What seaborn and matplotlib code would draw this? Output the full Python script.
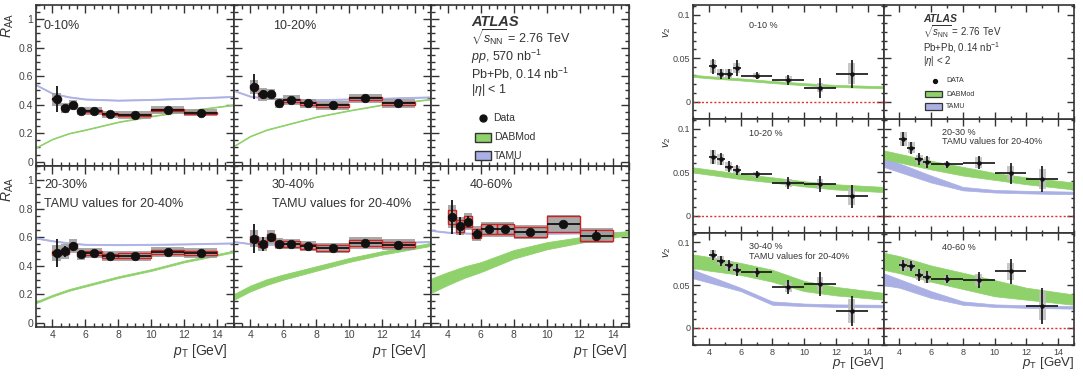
import numpy as np
import matplotlib
matplotlib.use("Agg")
import matplotlib.pyplot as plt
import seaborn as sns
from matplotlib.ticker import MultipleLocator, FuncFormatter
from matplotlib.patches import Rectangle

# ---------------- R_AA data (left group) ----------------
raa_edges = [4, 4.5, 5, 5.5, 6, 7, 8, 10, 12, 14]

raa_0_10 = [0.438, 0.380, 0.396, 0.356, 0.356, 0.333, 0.328, 0.363, 0.344]
raa_0_10_stat = [0.09, 0.02, 0.02, 0.015, 0.012, 0.01, 0.01, 0.01, 0.012]
raa_0_10_sys = [0.045, 0.035, 0.035, 0.03, 0.03, 0.025, 0.025, 0.025, 0.025]
raa_0_10_red = [0.008] * 9

raa_10_20 = [0.527, 0.473, 0.473, 0.415, 0.431, 0.410, 0.396, 0.445, 0.410]
raa_10_20_stat = [0.09, 0.03, 0.02, 0.015, 0.012, 0.01, 0.01, 0.01, 0.012]
raa_10_20_sys = [0.05, 0.045, 0.04, 0.035, 0.035, 0.03, 0.03, 0.03, 0.03]
raa_10_20_red = [0.01] * 9

raa_20_30 = [0.488, 0.500, 0.536, 0.481, 0.488, 0.469, 0.471, 0.495, 0.488]
raa_20_30_stat = [0.10, 0.04, 0.03, 0.02, 0.015, 0.012, 0.012, 0.012, 0.015]
raa_20_30_sys = [0.055, 0.05, 0.05, 0.04, 0.035, 0.035, 0.035, 0.035, 0.035]
raa_20_30_red = [0.015] * 9

raa_30_40 = [0.590, 0.555, 0.600, 0.555, 0.555, 0.536, 0.524, 0.560, 0.548]
raa_30_40_stat = [0.10, 0.05, 0.03, 0.02, 0.015, 0.012, 0.012, 0.012, 0.015]
raa_30_40_sys = [0.06, 0.05, 0.05, 0.04, 0.035, 0.035, 0.035, 0.04, 0.04]
raa_30_40_red = [0.02] * 9

raa_40_60 = [0.743, 0.679, 0.710, 0.626, 0.655, 0.655, 0.638, 0.695, 0.612]
raa_40_60_stat = [0.12, 0.06, 0.04, 0.03, 0.02, 0.015, 0.015, 0.02, 0.04]
raa_40_60_sys = [0.08, 0.06, 0.06, 0.05, 0.05, 0.05, 0.05, 0.06, 0.05]
raa_40_60_red = [0.05, 0.04, 0.04, 0.03, 0.035, 0.035, 0.035, 0.055, 0.04]

# model curves for R_AA
raa_model_pt = [3, 4, 5, 6, 8, 10, 12, 15]
tamu_raa_0_10 = [0.54, 0.48, 0.455, 0.44, 0.432, 0.437, 0.445, 0.458]
tamu_raa_10_20 = [0.50, 0.46, 0.445, 0.44, 0.435, 0.44, 0.445, 0.455]
tamu_raa_20_30 = [0.595, 0.575, 0.56, 0.55, 0.548, 0.55, 0.553, 0.56]
tamu_raa_30_40 = [0.57, 0.555, 0.55, 0.548, 0.548, 0.553, 0.56, 0.57]
tamu_raa_40_60 = [0.648, 0.635, 0.63, 0.625, 0.625, 0.628, 0.63, 0.635]
dab_raa_0_10 = [0.10, 0.16, 0.20, 0.225, 0.28, 0.32, 0.355, 0.40]
dab_raa_10_20 = [0.11, 0.18, 0.225, 0.255, 0.315, 0.36, 0.40, 0.44]
dab_raa_20_30 = [0.143, 0.19, 0.23, 0.26, 0.32, 0.37, 0.43, 0.50]
dab_raa_30_40 = [0.18, 0.24, 0.285, 0.32, 0.38, 0.44, 0.49, 0.55]
dab_raa_40_60 = [0.26, 0.31, 0.355, 0.39, 0.48, 0.54, 0.58, 0.63]
dab_raa_hw_30_40 = [0.02, 0.02, 0.02, 0.018, 0.016, 0.014, 0.012, 0.01]
dab_raa_hw_40_60 = [0.05, 0.045, 0.04, 0.035, 0.03, 0.025, 0.02, 0.015]

# ---------------- v2 data (right group) ----------------
v2_edges = [4, 4.5, 5, 5.5, 6, 8, 10, 12, 14]

v2_0_10 = [0.0404, 0.032, 0.032, 0.0385, 0.0296, 0.025, 0.016, 0.032]
v2_0_10_stat = [0.009, 0.006, 0.006, 0.009, 0.004, 0.006, 0.0115, 0.016]
v2_0_10_sys = [0.007, 0.005, 0.005, 0.006, 0.003, 0.004, 0.005, 0.012]

v2_10_20 = [0.0677, 0.0646, 0.0563, 0.0525, 0.0475, 0.0373, 0.0365, 0.022]
v2_10_20_stat = [0.008, 0.007, 0.006, 0.006, 0.004, 0.007, 0.009, 0.013]
v2_10_20_sys = [0.008, 0.006, 0.005, 0.005, 0.003, 0.005, 0.006, 0.010]

v2_20_30 = [0.0875, 0.078, 0.0646, 0.062, 0.059, 0.061, 0.0487, 0.042]
v2_20_30_stat = [0.008, 0.007, 0.007, 0.007, 0.004, 0.008, 0.012, 0.015]
v2_20_30_sys = [0.008, 0.006, 0.005, 0.005, 0.003, 0.006, 0.008, 0.012]

v2_30_40 = [0.0856, 0.0786, 0.073, 0.068, 0.065, 0.0475, 0.0514, 0.0195]
v2_30_40_stat = [0.006, 0.006, 0.006, 0.007, 0.005, 0.008, 0.0136, 0.0175]
v2_30_40_sys = [0.006, 0.005, 0.005, 0.005, 0.003, 0.006, 0.008, 0.014]

v2_40_60 = [0.073, 0.072, 0.0623, 0.059, 0.057, 0.056, 0.0661, 0.026]
v2_40_60_stat = [0.007, 0.006, 0.007, 0.007, 0.005, 0.009, 0.015, 0.021]
v2_40_60_sys = [0.007, 0.006, 0.006, 0.006, 0.004, 0.007, 0.010, 0.017]

v2_model_pt = [3, 4, 6, 8, 10, 12, 15]
dab_v2_0_10 = [0.0296, 0.028, 0.0255, 0.0225, 0.020, 0.018, 0.0165]
dab_v2_10_20 = [0.0525, 0.050, 0.045, 0.041, 0.0365, 0.033, 0.030]
dab_v2_20_30 = [0.070, 0.066, 0.058, 0.051, 0.045, 0.040, 0.034]
dab_v2_30_40 = [0.078, 0.075, 0.069, 0.061, 0.049, 0.043, 0.037]
dab_v2_40_60 = [0.078, 0.074, 0.0635, 0.055, 0.0465, 0.040, 0.033]
dab_v2_hw_0_10 = [0.0012] * 7
dab_v2_hw_10_20 = [0.003] * 7
dab_v2_hw_20_30 = [0.005, 0.005, 0.005, 0.005, 0.004, 0.004, 0.004]
dab_v2_hw_30_40 = [0.008, 0.008, 0.007, 0.007, 0.006, 0.005, 0.004]
dab_v2_hw_40_60 = [0.010, 0.010, 0.0095, 0.0095, 0.0095, 0.007, 0.006]
tamu_v2_20_30 = [0.062, 0.055, 0.042, 0.031, 0.028, 0.027, 0.026]
tamu_v2_30_40 = [0.063, 0.057, 0.045, 0.029, 0.027, 0.026, 0.0255]
tamu_v2_40_60 = [0.057, 0.052, 0.039, 0.029, 0.026, 0.025, 0.024]
tamu_v2_hw_20_30 = [0.006, 0.005, 0.004, 0.002, 0.0015, 0.0015, 0.0015]
tamu_v2_hw_30_40 = [0.005, 0.004, 0.002, 0.002, 0.0015, 0.0015, 0.0015]
tamu_v2_hw_40_60 = [0.007, 0.005, 0.004, 0.002, 0.0015, 0.0015, 0.0015]

# ---------------- style ----------------
sns.set_style("ticks")
plt.rcParams['font.family'] = ['Liberation Sans', 'DejaVu Sans']
plt.rcParams['mathtext.fontset'] = 'custom'
plt.rcParams['mathtext.rm'] = 'Liberation Sans'
plt.rcParams['mathtext.it'] = 'Liberation Sans:italic'
plt.rcParams['mathtext.bf'] = 'Liberation Sans:bold'
plt.rcParams['axes.edgecolor'] = '#333333'
plt.rcParams['xtick.color'] = '#333333'
plt.rcParams['ytick.color'] = '#333333'

GREEN = '#8fd16a'
BLUE = '#aab0e4'
TXT = '#333333'

W, H = 1083, 377
fig = plt.figure(figsize=(W / 100, H / 100), dpi=100)


def px_axes(x0, y0, x1, y1):
    return fig.add_axes([x0 / W, 1 - y1 / H, (x1 - x0) / W, (y1 - y0) / H])


def ftext(x, y, s, **kw):
    kw.setdefault('color', TXT)
    kw.setdefault('va', 'center')
    fig.text(x / W, 1 - y / H, s, **kw)


fmt = FuncFormatter(lambda v, p: '%g' % round(v, 4))


def style_axes(ax, xmaj, xmin, ymaj, ymin, ylab, xlab, fs, maj_len, min_len):
    ax.xaxis.set_major_locator(MultipleLocator(xmaj))
    ax.xaxis.set_minor_locator(MultipleLocator(xmin))
    ax.yaxis.set_major_locator(MultipleLocator(ymaj))
    ax.yaxis.set_minor_locator(MultipleLocator(ymin))
    ax.yaxis.set_major_formatter(fmt)
    ax.xaxis.set_major_formatter(fmt)
    ax.tick_params(which='both', direction='in', top=True, right=True,
                   labelsize=fs, pad=2, width=1.0, labelcolor='#444444')
    ax.tick_params(which='major', length=maj_len)
    ax.tick_params(which='minor', length=min_len)
    ax.tick_params(labelleft=ylab, labelbottom=xlab)
    for sp in ax.spines.values():
        sp.set_linewidth(1.2)
        sp.set_visible(True)
    ax.set_xlabel('')
    ax.set_ylabel('')


lo = np.array(raa_edges[:-1])
hi = np.array(raa_edges[1:])
raa_c = (lo + hi) / 2
raa_w = hi - lo


def draw_raa(ax, val, stat, sys_, red, tamu, dab, dab_hw):
    val = np.array(val); sys_ = np.array(sys_); red = np.array(red)
    t = np.array(tamu); d = np.array(dab); dh = np.array(dab_hw)
    ax.fill_between(raa_model_pt, t - 0.004, t + 0.004, color=BLUE, lw=0.6, ec=BLUE, zorder=1)
    ax.fill_between(raa_model_pt, d - dh, d + dh, color=GREEN, lw=0.6, ec=GREEN, zorder=1)
    ax.bar(raa_c, 2 * sys_, bottom=val - sys_, width=raa_w, color='#9a9a9a',
           alpha=0.85, lw=0, zorder=2)
    ax.bar(raa_c, 2 * red, bottom=val - red, width=raa_w, fill=False,
           edgecolor='#d02020', lw=1.0, zorder=3)
    ax.errorbar(raa_c, val, yerr=stat, xerr=raa_w / 2, fmt='none', ecolor='#111111',
                elinewidth=1.3, zorder=4)
    sns.scatterplot(x=raa_c, y=val, ax=ax, color='#111111', s=38, edgecolor='#111111',
                    linewidth=0.5, zorder=5, legend=False)
    ax.set_xlim(3, 15)
    ax.set_ylim(-0.03, 1.1)


# left group layout
lx = [36, 233.7, 431.3, 629]
ly = [5, 166, 327]
raa_sets = [
    (0, 0, raa_0_10, raa_0_10_stat, raa_0_10_sys, raa_0_10_red, tamu_raa_0_10, dab_raa_0_10, [0.003] * 8),
    (0, 1, raa_10_20, raa_10_20_stat, raa_10_20_sys, raa_10_20_red, tamu_raa_10_20, dab_raa_10_20, [0.003] * 8),
    (1, 0, raa_20_30, raa_20_30_stat, raa_20_30_sys, raa_20_30_red, tamu_raa_20_30, dab_raa_20_30, [0.006] * 8),
    (1, 1, raa_30_40, raa_30_40_stat, raa_30_40_sys, raa_30_40_red, tamu_raa_30_40, dab_raa_30_40, dab_raa_hw_30_40),
    (1, 2, raa_40_60, raa_40_60_stat, raa_40_60_sys, raa_40_60_red, tamu_raa_40_60, dab_raa_40_60, dab_raa_hw_40_60),
]
for r, c, *args in raa_sets:
    ax = px_axes(lx[c], ly[r], lx[c + 1], ly[r + 1])
    draw_raa(ax, *args)
    style_axes(ax, 2, 0.5, 0.2, 0.05, c == 0, r == 1, 7.5, 6, 3)

# left legend panel
axl = px_axes(lx[2], ly[0], lx[3], ly[1])
axl.set_xlim(3, 15); axl.set_ylim(-0.03, 1.1)
style_axes(axl, 2, 0.5, 0.2, 0.05, False, False, 7.5, 6, 3)
ftext(471, 22, 'ATLAS', fontsize=10.5, fontweight='bold', fontstyle='italic')
ftext(471, 38, r'$\sqrt{s_{\mathrm{NN}}}$ = 2.76 TeV', fontsize=9)
ftext(471, 56.5, r'$pp$, 570 nb$^{-1}$', fontsize=9)
ftext(471, 74, r'Pb+Pb, 0.14 nb$^{-1}$', fontsize=9)
ftext(471, 90, r'$|\eta|$ < 1', fontsize=9)
axl.scatter([(482.7 - lx[2]) / (lx[3] - lx[2])], [1 - (118.3 - 5) / 161], s=25,
            color='#111111', transform=axl.transAxes)
ftext(493, 118.3, 'Data', fontsize=7.5)
for yy0, col, lab in [(132.5, GREEN, 'DABMod'), (150.7, BLUE, 'TAMU')]:
    axl.add_patch(Rectangle(((475 - lx[2]) / (lx[3] - lx[2]), 1 - (yy0 + 9.5 - 5) / 161),
                            15.7 / (lx[3] - lx[2]), 9.5 / 161, transform=axl.transAxes,
                            facecolor=col, edgecolor='#333333', lw=1.0))
    ftext(494, yy0 + 4.8, lab, fontsize=7.5)

# left panel labels
ftext(44, 26, '0-10%', fontsize=9)
ftext(273, 26, '10-20%', fontsize=9)
ftext(44, 185, '20-30%', fontsize=9)
ftext(44, 204, 'TAMU values for 20-40%', fontsize=9)
ftext(272, 185, '30-40%', fontsize=9)
ftext(272, 204, 'TAMU values for 20-40%', fontsize=9)
ftext(470, 185, '40-60%', fontsize=9)
ftext(8, 26, r'$R_{\mathrm{AA}}$', fontsize=10, rotation=90, ha='center')
ftext(8, 190, r'$R_{\mathrm{AA}}$', fontsize=10, rotation=90, ha='center')
for xe in [228, 427, 628]:
    ftext(xe, 351, r'$p_{\mathrm{T}}$ [GeV]', fontsize=10, ha='right')

# ---------------- right group ----------------
vlo = np.array(v2_edges[:-1])
vhi = np.array(v2_edges[1:])
v2_c = (vlo + vhi) / 2
v2_w = vhi - vlo


def draw_v2(ax, val, stat, sys_, dab, dab_hw, tamu=None, tamu_hw=None):
    val = np.array(val); sys_ = np.array(sys_)
    d = np.array(dab); dh = np.array(dab_hw)
    if tamu is not None:
        t = np.array(tamu); th = np.array(tamu_hw)
        ax.fill_between(v2_model_pt, t - th, t + th, color=BLUE, lw=0.5, ec=BLUE, zorder=1)
    ax.fill_between(v2_model_pt, d - dh, d + dh, color=GREEN, lw=0.5, ec=GREEN, zorder=1)
    ax.axhline(0, color='#e03030', ls=(0, (1.5, 1.5)), lw=1.0, zorder=1)
    ax.bar(v2_c, 2 * sys_, bottom=val - sys_, width=0.42, color='#bdbdbd',
           alpha=0.85, lw=0, zorder=2)
    ax.errorbar(v2_c, val, yerr=stat, xerr=v2_w / 2, fmt='none', ecolor='#111111',
                elinewidth=1.2, zorder=4)
    sns.scatterplot(x=v2_c, y=val, ax=ax, color='#111111', s=8, edgecolor='#111111',
                    linewidth=0.3, zorder=5, legend=False)
    ax.set_xlim(3, 15)
    ax.set_ylim(-0.02, 0.111)


rx = [693, 883.5, 1074]
ry = [5, 119, 233, 345]
v2_sets = [
    (0, 0, v2_0_10, v2_0_10_stat, v2_0_10_sys, dab_v2_0_10, dab_v2_hw_0_10, None, None),
    (1, 0, v2_10_20, v2_10_20_stat, v2_10_20_sys, dab_v2_10_20, dab_v2_hw_10_20, None, None),
    (1, 1, v2_20_30, v2_20_30_stat, v2_20_30_sys, dab_v2_20_30, dab_v2_hw_20_30, tamu_v2_20_30, tamu_v2_hw_20_30),
    (2, 0, v2_30_40, v2_30_40_stat, v2_30_40_sys, dab_v2_30_40, dab_v2_hw_30_40, tamu_v2_30_40, tamu_v2_hw_30_40),
    (2, 1, v2_40_60, v2_40_60_stat, v2_40_60_sys, dab_v2_40_60, dab_v2_hw_40_60, tamu_v2_40_60, tamu_v2_hw_40_60),
]
for r, c, *args in v2_sets:
    ax = px_axes(rx[c], ry[r], rx[c + 1], ry[r + 1])
    draw_v2(ax, *args)
    style_axes(ax, 2, 1, 0.05, 0.01, c == 0, r == 2, 6.5, 5, 2.5)

axr = px_axes(rx[1], ry[0], rx[2], ry[1])
axr.set_xlim(3, 15); axr.set_ylim(-0.02, 0.111)
axr.axhline(0, color='#e03030', ls=(0, (1.5, 1.5)), lw=1.0, xmax=0.02)
style_axes(axr, 2, 1, 0.05, 0.01, False, False, 6.5, 5, 2.5)
ftext(923, 18.5, 'ATLAS', fontsize=7.5, fontweight='bold', fontstyle='italic')
ftext(923, 31.5, r'$\sqrt{s_{\mathrm{NN}}}$ = 2.76 TeV', fontsize=7)
ftext(923, 47.5, r'Pb+Pb, 0.14 nb$^{-1}$', fontsize=7)
ftext(923, 61, r'$|\eta|$ < 2', fontsize=7)
rw = rx[2] - rx[1]; rh = ry[1] - ry[0]
axr.scatter([(935 - rx[1]) / rw], [1 - (80.7 - 5) / rh], s=8, color='#111111',
            transform=axr.transAxes)
ftext(946, 80.7, 'DATA', fontsize=5)
for yy0, col, lab in [(90.7, GREEN, 'DABMod'), (103.3, BLUE, 'TAMU')]:
    axr.add_patch(Rectangle(((925 - rx[1]) / rw, 1 - (yy0 + 6.6 - 5) / rh),
                            16.7 / rw, 6.6 / rh, transform=axr.transAxes,
                            facecolor=col, edgecolor='#333333', lw=0.9))
    ftext(946, yy0 + 3.3, lab, fontsize=5)

ftext(749, 25, '0-10 %', fontsize=6.5)
ftext(749, 133, '10-20 %', fontsize=6.5)
ftext(942, 132.5, '20-30 %', fontsize=6.5)
ftext(942, 142, 'TAMU values for 20-40%', fontsize=6.5)
ftext(749, 246, '30-40 %', fontsize=6.5)
ftext(749, 256.5, 'TAMU values for 20-40%', fontsize=6.5)
ftext(942, 248, '40-60 %', fontsize=6.5)
for yy in [32, 142, 252]:
    ftext(667, yy, r'$v_2$', fontsize=8, rotation=90, ha='center')
for xe in [884, 1074]:
    ftext(xe, 363, r'$p_{\mathrm{T}}$ [GeV]', fontsize=9.5, ha='right')

fig.savefig('out.png', dpi=100)
